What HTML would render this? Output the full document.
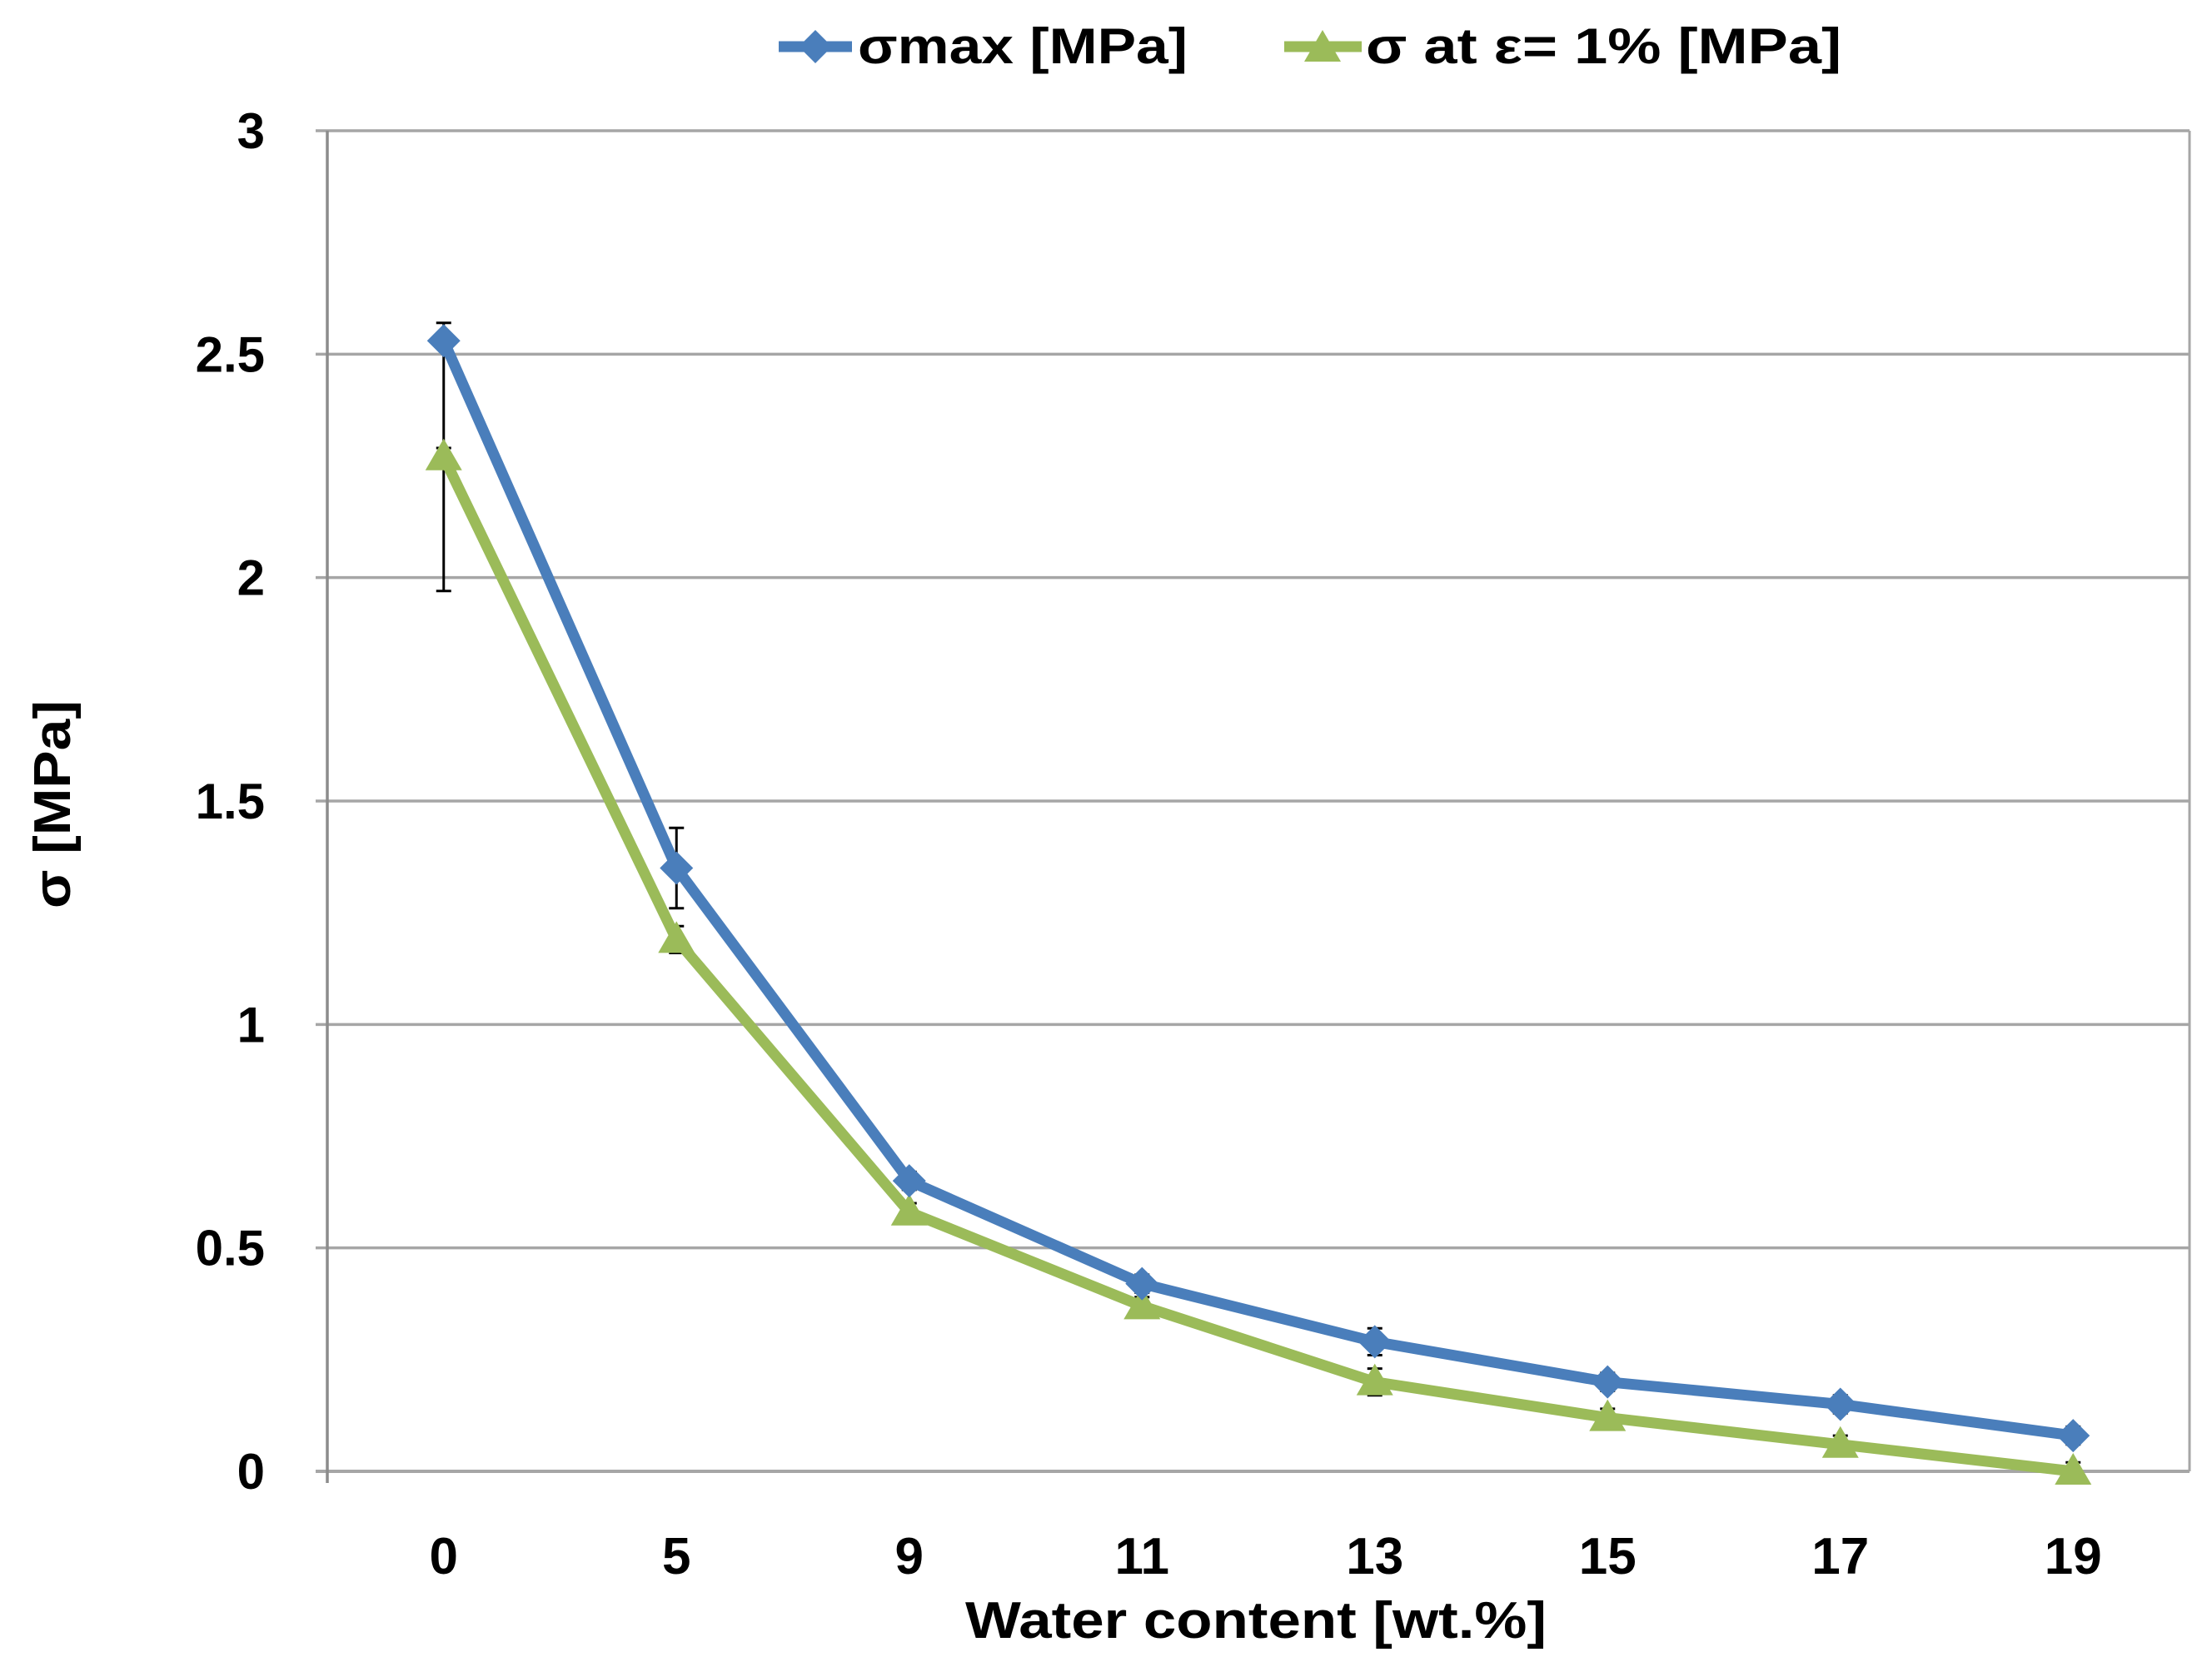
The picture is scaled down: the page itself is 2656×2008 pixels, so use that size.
<!DOCTYPE html>
<html><head><meta charset="utf-8"><style>
html,body{margin:0;padding:0;background:#fff;}
svg{display:block;}
text{font-family:"Liberation Sans",sans-serif;font-weight:bold;fill:#000;}
</style></head><body>
<svg id="chart" width="2656" height="2008" viewBox="0 0 2656 2008" xmlns="http://www.w3.org/2000/svg">
<g id="grid"></g>
<g id="axes"></g>
<g id="series"></g>
<g id="legend">
  <line x1="935" y1="56" x2="1023" y2="56" stroke="#4a7ebb" stroke-width="13"/>
  <path d="M979,36 L999,56 L979,76 L959,56 Z" fill="#4a7ebb"/>
  <text x="1030" y="76" font-size="60" textLength="396" lengthAdjust="spacingAndGlyphs">σmax [MPa]</text>
  <line x1="1542" y1="56" x2="1635" y2="56" stroke="#9bbb59" stroke-width="13"/>
  <path d="M1588,36 L1610,74 L1566,74 Z" fill="#9bbb59"/>
  <text x="1640" y="76" font-size="60" textLength="571" lengthAdjust="spacingAndGlyphs">σ at ε= 1%  [MPa]</text>
</g>
<text x="1508" y="1967" font-size="62" text-anchor="middle" textLength="698" lengthAdjust="spacingAndGlyphs">Water content [wt.%]</text>
<text transform="translate(84,966) rotate(-90)" font-size="62" text-anchor="middle" textLength="250" lengthAdjust="spacingAndGlyphs">σ [MPa]</text>
</svg>
<script>
const categories = ["0","5","9","11","13","15","17","19"];
const sigmaMax = [2.53,1.35,0.65,0.42,0.29,0.20,0.15,0.08];
const sigma1 = [2.27,1.19,0.58,0.37,0.20,0.12,0.06,0.00];
const errMaxUp = [0.04,0.09,0.02,0.02,0.03,0.02,0.02,0.02];
const errMaxDown = [0.56,0.09,0.02,0.02,0.03,0.02,0.02,0.02];
const err1Up = [0.02,0.03,0.02,0.02,0.03,0.02,0.02,0.02];
const err1Down = [0.02,0.03,0.02,0.02,0.03,0.02,0.02,0.02];
const yTicks = [0,0.5,1,1.5,2,2.5,3];
const yTickLabels = ["0","0.5","1","1.5","2","2.5","3"];

const NS="http://www.w3.org/2000/svg";
const L=393,R=2629,T=157,B=1767,yMax=3;
function xs(i){return L+(R-L)/categories.length*(i+0.5);}
function ys(v){return B-(B-T)*v/yMax;}
function mk(tag,attrs,parent){const e=document.createElementNS(NS,tag);for(const k in attrs)e.setAttribute(k,attrs[k]);parent.appendChild(e);return e;}
const grid=document.getElementById('grid'),axes=document.getElementById('axes'),ser=document.getElementById('series');
yTicks.forEach((v,i)=>{
  const g=mk('line',{x1:L-14,x2:R,y1:ys(v),y2:ys(v),stroke:'#a6a6a6','stroke-width':v===0?4:3.5},grid);
  
  
  const t=mk('text',{x:318,y:ys(v)+21,'font-size':60,'text-anchor':'end'},axes);
  t.textContent=yTickLabels[i];
  
  
});
const ya=mk('line',{x1:L,x2:L,y1:T,y2:B+14,stroke:'#8c8c8c','stroke-width':3.5},axes);


const rb=mk('line',{x1:R,x2:R,y1:T,y2:B,stroke:'#a6a6a6','stroke-width':3},axes);


categories.forEach((c,i)=>{
  const t=mk('text',{x:xs(i),y:1890,'font-size':62,'text-anchor':'middle'},axes);
  t.textContent=c;
  
  
});
function errBars(vals,up,down,name){
  vals.forEach((v,i)=>{
    const x=xs(i),y1=ys(v+up[i]),y2=ys(v-down[i]);
    const g=mk('g',{stroke:'#000','stroke-width':3},ser);
    
    
    mk('line',{x1:x,x2:x,y1:y1,y2:y2},g);
    mk('line',{x1:x-9,x2:x+9,y1:y1,y2:y1},g);
    mk('line',{x1:x-9,x2:x+9,y1:y2,y2:y2},g);
  });
}
errBars(sigma1,err1Up,err1Down,'sigma-1pct');
errBars(sigmaMax,errMaxUp,errMaxDown,'sigma-max');
function line(vals,color,name){
  const p=mk('polyline',{points:vals.map((v,i)=>xs(i)+','+ys(v)).join(' '),fill:'none',stroke:color,'stroke-width':13,'stroke-linejoin':'round'},ser);
  
  
}
line(sigma1,'#9bbb59','sigma-1pct');
line(sigmaMax,'#4a7ebb','sigma-max');
sigma1.forEach((v,i)=>{
  const x=xs(i),y=ys(v);
  const m=mk('path',{d:`M${x},${y-22} L${x+22},${y+16} L${x-22},${y+16} Z`,fill:'#9bbb59'},ser);
  
  
});
sigmaMax.forEach((v,i)=>{
  const x=xs(i),y=ys(v);
  const m=mk('path',{d:`M${x},${y-20} L${x+20},${y} L${x},${y+20} L${x-20},${y} Z`,fill:'#4a7ebb'},ser);
  
  
});
</script>
</body></html>
